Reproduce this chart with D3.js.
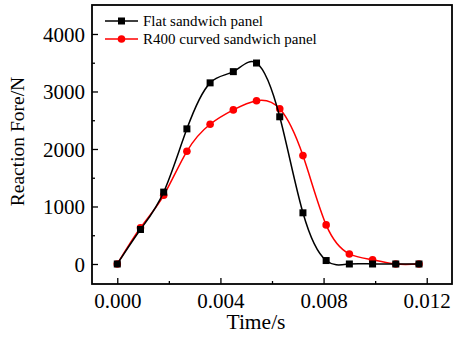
<!DOCTYPE html>
<html>
<head>
<meta charset="utf-8">
<script src="https://cdn.jsdelivr.net/npm/d3@7"></script>
<style>
  body { margin: 0; background: #fff; }
</style>
</head>
<body>
<div id="chart"></div>
<script>
// data
const times = [0, 0.0009, 0.0018, 0.0027, 0.0036, 0.0045, 0.0054, 0.0063, 0.0072, 0.0081, 0.009, 0.0099, 0.0108, 0.0117];
const flatForce = [0, 600, 1250, 2350, 3150, 3345, 3495, 2560, 890, 60, 0, 0, 0, 0];
const curvedForce = [0, 630, 1195, 1960, 2430, 2680, 2840, 2700, 1885, 680, 175, 75, 0, 0];
const seriesNames = ["Flat sandwich panel", "R400 curved sandwich panel"];
const xTicks = [0, 0.004, 0.008, 0.012];
const xMinor = [0.002, 0.006, 0.010];
const yTicks = [0, 1000, 2000, 3000, 4000];
const yMinor = [500, 1500, 2500, 3500];

const W = 453, H = 338;
const margin = { top: 5, right: 1, bottom: 54, left: 92 };
const width = W - margin.left - margin.right;
const height = H - margin.top - margin.bottom;
const FONT = "Liberation Serif";

const svg = d3.select("#chart").append("svg")
    .attr("width", W)
    .attr("height", H);
const g = svg.append("g")
    .attr("transform", "translate(" + margin.left + "," + margin.top + ")");

const x = d3.scaleLinear().domain([-0.00098, 0.01298]).range([0, width]);
const y = d3.scaleLinear().domain([-348, 4504]).range([height, 0]);

g.append("defs").append("clipPath").attr("id", "clip")
    .append("rect").attr("width", width).attr("height", height);

// minor ticks
g.append("g").attr("transform", "translate(0," + height + ")")
    .call(d3.axisBottom(x).tickValues(xMinor).tickFormat("").tickSizeInner(-3).tickSizeOuter(0));
g.append("g")
    .call(d3.axisLeft(y).tickValues(yMinor).tickFormat("").tickSizeInner(-3).tickSizeOuter(0));

// major ticks
const xAxis = g.append("g").attr("transform", "translate(0," + height + ")")
    .call(d3.axisBottom(x).tickValues(xTicks).tickFormat(d3.format(".3f"))
        .tickSizeInner(-6).tickSizeOuter(0).tickPadding(8));
const yAxis = g.append("g")
    .call(d3.axisLeft(y).tickValues(yTicks).tickFormat(d3.format("d"))
        .tickSizeInner(-6).tickSizeOuter(0).tickPadding(7));

g.selectAll(".tick line").attr("stroke", "#000").attr("stroke-width", 1.3);
g.selectAll(".domain").remove();
xAxis.attr("font-family", FONT).selectAll("text").attr("font-size", 21).attr("fill", "#000")
    .attr("dy", "0.75em");
yAxis.attr("font-family", FONT).selectAll("text").attr("font-size", 21).attr("fill", "#000")
    .attr("dy", "0.34em");

// frame
g.append("rect")
    .attr("width", width).attr("height", height)
    .attr("fill", "none").attr("stroke", "#000").attr("stroke-width", 1.8);

// axis titles
g.append("text")
    .attr("x", width / 2 - 16).attr("y", height + 45)
    .attr("text-anchor", "middle").attr("font-size", 21.5)
    .text("Time/s");
g.append("text")
    .attr("transform", "rotate(-90)")
    .attr("x", -(height / 2) + 3).attr("y", -68)
    .attr("text-anchor", "middle").attr("font-size", 19.5)
    .text("Reaction Fore/N");

const series = [
    { name: seriesNames[0], color: "#000000", shape: "square", values: flatForce },
    { name: seriesNames[1], color: "#ff0000", shape: "circle", values: curvedForce }
];

const line = d3.line()
    .x((d, i) => x(times[i]))
    .y(d => y(d))
    .curve(d3.curveNatural);

function marker(sel, s, cx, cy) {
    if (s.shape === "square") {
        sel.append("rect")
            .attr("x", cx - 3.5).attr("y", cy - 3.5)
            .attr("width", 7).attr("height", 7)
            .attr("fill", s.color);
    } else {
        sel.append("circle")
            .attr("cx", cx).attr("cy", cy).attr("r", 3.8)
            .attr("fill", s.color);
    }
}

// draw curved first, flat on top
[series[1], series[0]].forEach(s => {
    const grp = g.append("g");
    grp.append("path")
        .attr("d", line(s.values))
        .attr("fill", "none")
        .attr("stroke", s.color)
        .attr("stroke-width", 1.5)
        .attr("clip-path", "url(#clip)");
    s.values.forEach((v, i) => marker(grp, s, x(times[i]), y(v)));
});

// legend
const legend = g.append("g").attr("transform", "translate(13,16)");
series.forEach((s, i) => {
    const row = legend.append("g").attr("transform", "translate(0," + (i * 18) + ")");
    row.append("line")
        .attr("x1", 0).attr("x2", 33)
        .attr("stroke", s.color).attr("stroke-width", 1.5);
    marker(row, s, 16.5, 0);
    row.append("text")
        .attr("x", 38).attr("y", 5)
        .attr("font-size", 15)
        .text(s.name);
});

svg.selectAll("text").attr("font-family", FONT).style("font-family", FONT);
</script>
</body>
</html>
